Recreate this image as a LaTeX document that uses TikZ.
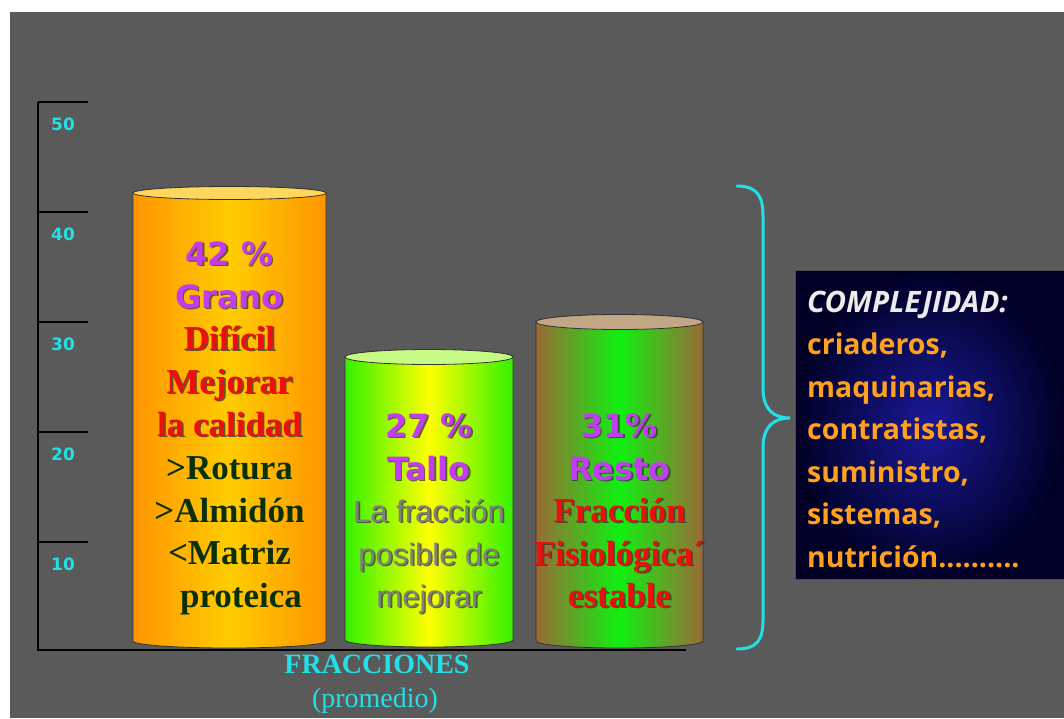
\documentclass[tikz,border=0pt]{standalone}
\usepackage{fontspec}
\setmainfont{Liberation Serif}
\newfontfamily\arialf{Liberation Sans}
\newfontfamily\dvs{DejaVu Sans}
\newfontfamily\osans{Open Sans}
\definecolor{bggray}{HTML}{5A5A5A}
\definecolor{cyanl}{HTML}{22E0E6}
\definecolor{purp}{HTML}{C23CF2}
\definecolor{redt}{HTML}{EE0E0E}
\definecolor{dgreen}{HTML}{0A300A}
\definecolor{grayt}{HTML}{808080}
\definecolor{orgt}{HTML}{FFA01E}
\definecolor{oedge}{HTML}{FF9500}
\definecolor{omid}{HTML}{FFCC00}
\definecolor{gedge}{HTML}{33F200}
\definecolor{gmid}{HTML}{FFFF00}
\definecolor{bedge}{HTML}{9A6A36}
\definecolor{bmid}{HTML}{10F010}
\newcommand\stx[4]{%
  \node[#2, text=black!80, opacity=0.75, xshift=1.6pt, yshift=-1.6pt] (#1s) at (#3) {#4};
  \node[#2] (#1) at (#3) {#4};}
\begin{document}
\begin{tikzpicture}[x=1pt,y=-1pt,
  axislab/.style={font=\dvs\bfseries\fontsize{17}{17}\selectfont, text=cyanl, anchor=base west, inner sep=0},
  pct/.style={font=\dvs\bfseries\fontsize{32}{32}\selectfont, text=purp, anchor=base, inner sep=0},
  serifred/.style={font=\bfseries\fontsize{35}{35}\selectfont, text=redt, anchor=base, inner sep=0},
  serifgreen/.style={font=\bfseries\fontsize{35}{35}\selectfont, text=dgreen, anchor=base, inner sep=0},
  graysans/.style={font=\arialf\fontsize{31}{31}\selectfont, text=grayt, anchor=base, inner sep=0},
  boxtxt/.style={font=\osans\bfseries\fontsize{28.5}{28.5}\selectfont, text=orgt, anchor=base west, inner sep=0},
  cylline/.style={draw=black!80, line width=0.8pt}
]
\useasboundingbox (0,0) rectangle (1064,718);
\fill[white] (0,0) rectangle (1064,718);
\fill[bggray] (10,12) rectangle (1064,718);

% axis
\draw[black, line width=2.5pt] (38,102) -- (38,650) -- (686,650);
\foreach \yy in {102,212,322,432,542}
  \draw[black, line width=2pt] (38,\yy) -- (88,\yy);
\node[axislab] (l50) at (51,130) {50};
\node[axislab] (l40) at (51,240) {40};
\node[axislab] (l30) at (51,350) {30};
\node[axislab] (l20) at (51,460) {20};
\node[axislab] (l10) at (51,570) {10};

% cylinder 1
\shade[left color=oedge, right color=oedge, middle color=omid, cylline]
  (133,193) -- (133,641) arc[start angle=180, end angle=0, x radius=96.5, y radius=7]
  -- (326,193) arc[start angle=0, end angle=-180, x radius=96.5, y radius=6.5] -- cycle;
\draw[cylline, fill=omid!60!white!90!orange] (229.5,193) ellipse[x radius=96.5, y radius=6.5];
% cylinder 2
\shade[left color=gedge, right color=gedge, middle color=gmid, cylline]
  (345,357) -- (345,640) arc[start angle=180, end angle=0, x radius=84, y radius=7]
  -- (513,357) arc[start angle=0, end angle=-180, x radius=84, y radius=7.5] -- cycle;
\draw[cylline, fill=gedge!35!white!80!gmid] (429,357) ellipse[x radius=84, y radius=7.5];
% cylinder 3
\shade[left color=bedge, right color=bedge, middle color=bmid, cylline]
  (536,322) -- (536,641) arc[start angle=180, end angle=0, x radius=83.5, y radius=7]
  -- (703,322) arc[start angle=0, end angle=-180, x radius=83.5, y radius=7.5] -- cycle;
\draw[cylline, fill=bedge!60!white] (619.5,322) ellipse[x radius=83.5, y radius=7.5];

% text cylinder 1
\stx{g1}{pct}{229.5,265}{42 \%}
\stx{g2}{pct}{229.5,308}{Grano}
\stx{g3}{serifred}{229.5,350}{Difícil}
\stx{g4}{serifred}{229.5,393}{Mejorar}
\stx{g5}{serifred}{229.5,436}{la calidad}
\node[serifgreen] (g6) at (229.5,479) {>Rotura};
\node[serifgreen] (g7) at (229.5,522) {>Almidón};
\node[serifgreen] (g8) at (229.5,564) {<Matriz};
\node[serifgreen] (g9) at (241,607) {proteica};

% text cylinder 2
\stx{t1}{pct}{429,437}{27 \%}
\stx{t2}{pct}{429,480}{Tallo}
\stx{t3}{graysans}{429,522}{La fracción}
\stx{t4}{graysans}{429,565}{posible de}
\stx{t5}{graysans}{429,607}{mejorar}

% text cylinder 3
\stx{r1}{pct}{619.5,437}{31\%}
\stx{r2}{pct}{619.5,480}{Resto}
\stx{r3}{serifred}{619.5,522}{Fracción}
\stx{r4}{serifred}{619.5,565}{Fisiológica´}
\stx{r5}{serifred}{619.5,607}{estable}

% axis title
\node[font=\bfseries\fontsize{28}{28}\selectfont, text=cyanl, anchor=base, inner sep=0] (fr) at (377,673) {FRACCIONES};
\node[font=\fontsize{28}{28}\selectfont, text=cyanl, anchor=base, inner sep=0] (pr) at (375,707) {(promedio)};

% brace
\draw[cyanl, line width=3pt, line cap=round]
  (737,186) .. controls (757,186) and (763,196) .. (763,216)
  -- (763,388) .. controls (763,410) and (774,418) .. (790,418)
  .. controls (774,418) and (763,426) .. (763,448)
  -- (763,620) .. controls (763,640) and (757,649) .. (737,649);

% box
\shade[inner color=blue!55!black!90!white, outer color=black!85!blue] (795,270) rectangle (1064,579);
\draw[black!70, line width=0.8pt] (1064,270) -- (795,270) -- (795,579) -- (1064,579);
\node[font=\osans\bfseries\itshape\fontsize{29.5}{29.5}\selectfont, text=white!92!black, anchor=base west, inner sep=0] (c0) at (807,312) {COMPLEJIDAD:};
\node[boxtxt] (c1) at (807,354.5) {criaderos,};
\node[boxtxt] (c2) at (807,397) {maquinarias,};
\node[boxtxt] (c3) at (807,439.5) {contratistas,};
\node[boxtxt] (c4) at (807,482) {suministro,};
\node[boxtxt] (c5) at (807,524.5) {sistemas,};
\node[boxtxt] (c6) at (807,567) {nutrición..........};
\end{tikzpicture}
\end{document}
